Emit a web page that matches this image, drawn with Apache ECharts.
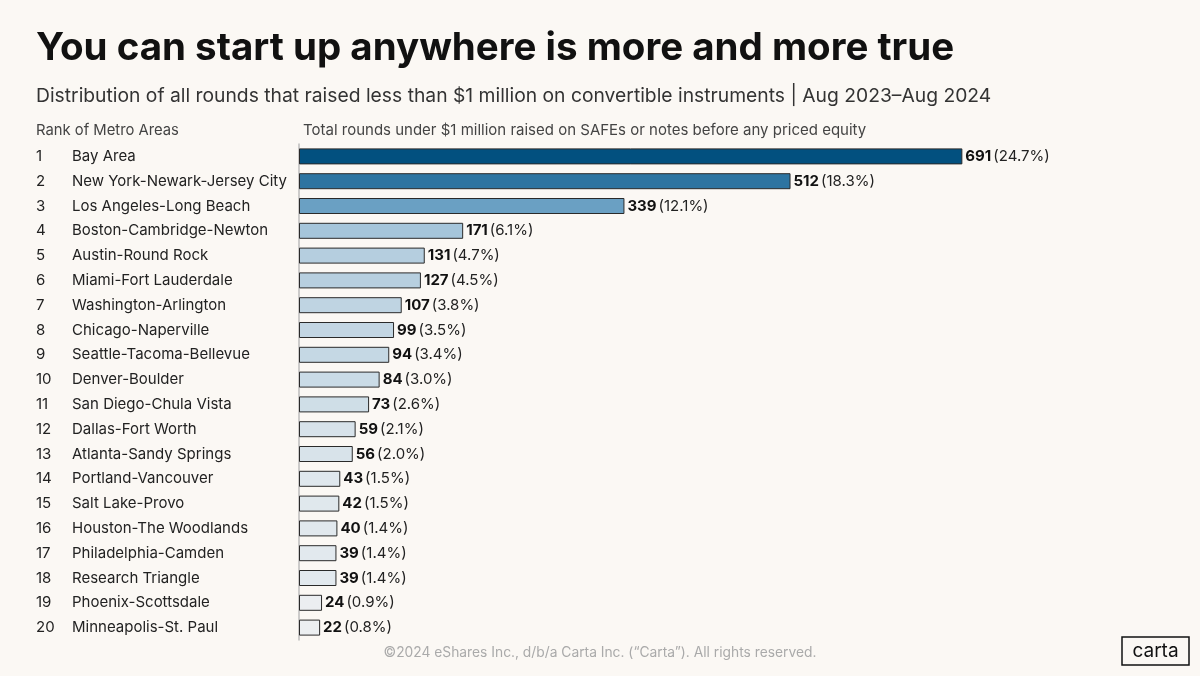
<!DOCTYPE html>
<html lang="en">
<head>
<meta charset="UTF-8">
<title>You can start up anywhere</title>
<script src="https://cdn.jsdelivr.net/npm/echarts@6/dist/echarts.min.js"></script>
<style>
  html, body { margin: 0; padding: 0; background: #fbf8f4; }
  #container { width: 1200px; height: 676px; }
</style>
</head>
<body>
<div id="container"></div>
<script>
// metro areas, ranked
var metros = ['Bay Area', 'New York-Newark-Jersey City', 'Los Angeles-Long Beach', 'Boston-Cambridge-Newton',
  'Austin-Round Rock', 'Miami-Fort Lauderdale', 'Washington-Arlington', 'Chicago-Naperville',
  'Seattle-Tacoma-Bellevue', 'Denver-Boulder', 'San Diego-Chula Vista', 'Dallas-Fort Worth',
  'Atlanta-Sandy Springs', 'Portland-Vancouver', 'Salt Lake-Provo', 'Houston-The Woodlands',
  'Philadelphia-Camden', 'Research Triangle', 'Phoenix-Scottsdale', 'Minneapolis-St. Paul'];
// rounds under $1M on SAFEs / notes
var rounds = [691, 512, 339, 171, 131, 127, 107, 99, 94, 84, 73, 59, 56, 43, 42, 40, 39, 39, 24, 22];
// share of all such rounds (%)
var shares = [24.7, 18.3, 12.1, 6.1, 4.7, 4.5, 3.8, 3.5, 3.4, 3.0, 2.6, 2.1, 2.0, 1.5, 1.5, 1.4, 1.4, 1.4, 0.9, 0.8];

var font = 'Inter, "Noto Sans", sans-serif';
var minV = Math.min.apply(null, rounds), maxV = Math.max.apply(null, rounds);
var blues = ['#eceff1', '#b0cbdd', '#78aacb', '#3379a6', '#02507f'];

function barColor(p) {
  // lighter -> darker blue depending on value
  var t = (Math.pow(p.value, 0.75) - Math.pow(minV, 0.75)) / (Math.pow(maxV, 0.75) - Math.pow(minV, 0.75));
  return echarts.color.lerp(t, blues);
}

var myChart = echarts.init(document.getElementById('container'));
var option = {
  backgroundColor: '#fbf8f4',
  animation: false,
  textStyle: { fontFamily: font },
  title: [{
    text: 'You can start up anywhere is more and more true',
    left: 31, top: 24,
    textStyle: { fontSize: 38.5, fontWeight: 'bold', color: '#111', fontFamily: font }
  }, {
    text: 'Distribution of all rounds that raised less than $1 million on convertible instruments | Aug 2023\u2013Aug 2024',
    left: 31, top: 82,
    textStyle: { fontSize: 19.3, fontWeight: 'normal', color: '#333', fontFamily: font }
  }],
  graphic: [
    { type: 'text', left: 36, top: 123, style: { text: 'Rank of Metro Areas', fontSize: 14.8, fill: '#444', fontFamily: font } },
    { type: 'text', left: 303, top: 123, style: { text: 'Total rounds under $1 million raised on SAFEs or notes before any priced equity', fontSize: 15, fill: '#444', fontFamily: font } },
    { type: 'text', left: 'center', top: 646, style: { text: '\u00a92024 eShares Inc., d/b/a Carta Inc. (\u201cCarta\u201d). All rights reserved.', fontSize: 13.8, fill: '#aaa', fontFamily: font } },
    { type: 'rect', shape: { x: 1122, y: 637, width: 67, height: 28 }, style: { fill: 'none', stroke: '#111', lineWidth: 1.5 } },
    { type: 'text', x: 1155.5, y: 651, style: { text: 'carta', fontSize: 19, fill: '#111', fontFamily: font, align: 'center', verticalAlign: 'middle' } }
  ],
  grid: { left: 299, right: 133, top: 144, bottom: 36, containLabel: false },
  xAxis: {
    type: 'value', min: 0, max: 800, show: false
  },
  yAxis: {
    type: 'category', inverse: true, data: metros,
    axisLine: { show: true, lineStyle: { color: '#bdbdbd', width: 1.5 } },
    axisTick: { show: false },
    axisLabel: {
      align: 'left', margin: 263,
      formatter: function (v, i) { return '{r|' + (i + 1) + '}{n|' + v + '}'; },
      rich: {
        r: { width: 36, fontSize: 15, color: '#222', fontFamily: font },
        n: { fontSize: 15, color: '#222', fontFamily: font }
      }
    }
  },
  series: [{
    type: 'bar', data: rounds, barWidth: 16,
    itemStyle: { color: barColor, borderColor: '#2a2a2a', borderWidth: 1 },
    label: {
      show: true, position: 'right', distance: 3,
      formatter: function (p) { return '{v|' + p.value + '}{s|(' + shares[p.dataIndex].toFixed(1) + '%)}'; },
      rich: {
        v: { fontSize: 15, fontWeight: 'bold', color: '#111', fontFamily: font },
        s: { fontSize: 15, color: '#222', fontFamily: font, padding: [0, 0, 0, 2] }
      }
    }
  }]
};
myChart.setOption(option);
</script>
</body>
</html>
